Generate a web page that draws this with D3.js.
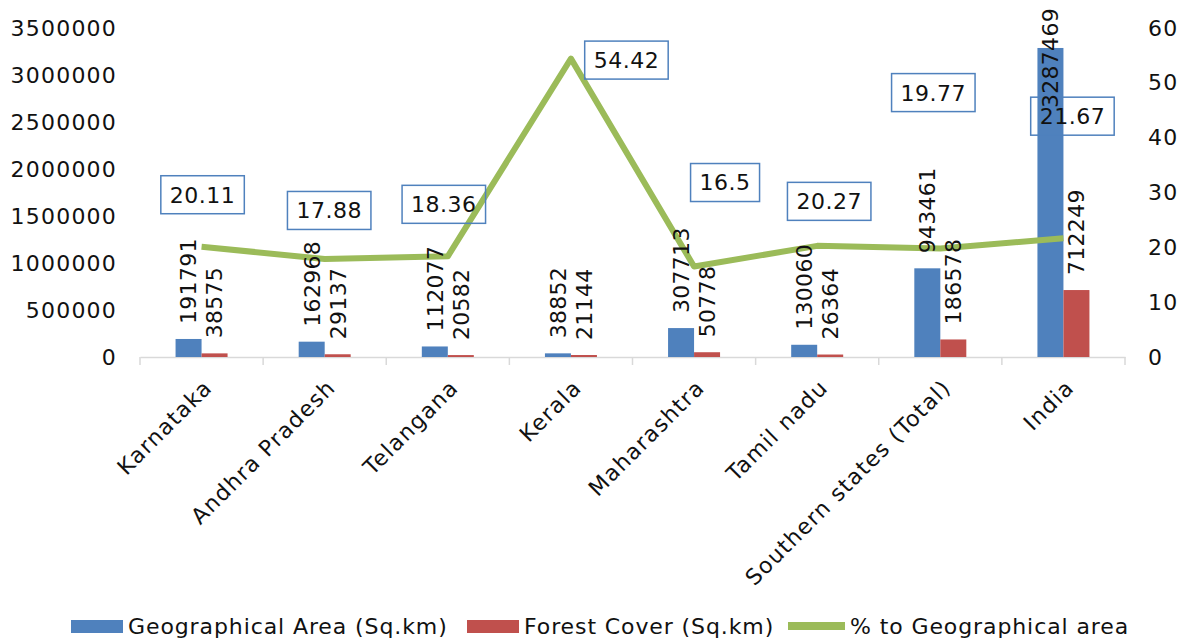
<!DOCTYPE html>
<html><head><meta charset="utf-8">
<script src="https://cdn.jsdelivr.net/npm/d3@7"></script>
<style>
body{margin:0;background:#fff}
svg{display:block;font-family:'DejaVu Sans',sans-serif}
</style>
</head><body>
<svg id="c" width="1184" height="640"></svg>
<script>
const categories = ["Karnataka","Andhra Pradesh","Telangana","Kerala","Maharashtra","Tamil nadu","Southern states (Total)","India"];
const geoArea = [191791,162968,112077,38852,307713,130060,943461,3287469];
const forestCover = [38575,29137,20582,21144,50778,26364,186578,712249];
const pctGeo = [20.11,17.88,18.36,54.42,16.5,20.27,19.77,21.67];
const leftTicks = [0,500000,1000000,1500000,2000000,2500000,3000000,3500000];
const rightTicks = [0,10,20,30,40,50,60];
const seriesNames = ["Geographical Area (Sq.km)","Forest Cover (Sq.km)","% to Geographical area"];
// layout only: manual placement of the % label boxes relative to their points (px)
const pctLabelOffsets = [[1,-52],[4.5,-48.5],[-4,-52],[55.5,1.5],[31,-84],[12,-44.5],[-7,-156],[9,-122]];

const colors = {geo:"#4F81BD", forest:"#C0504D", pct:"#9BBB59"};
const FS = 22;
const svg = d3.select("#c");

const x = d3.scaleBand().domain(categories).range([140,1125]).padding(0);
const y = d3.scaleLinear().domain([0,3500000]).range([357,28]);
const y2 = d3.scaleLinear().domain([0,60]).range([357,28]);
const xs = d3.scaleBand().domain(["geo","forest"]).range([0,52]);
const off = (x.bandwidth()-52)/2;

// axes
const gl = svg.append("g").attr("transform","translate(140,0)")
  .call(d3.axisLeft(y).tickValues(leftTicks).tickSize(0).tickPadding(23).tickFormat(d3.format("d")));
gl.select(".domain").remove();
const gr = svg.append("g").attr("transform","translate(1125,0)")
  .call(d3.axisRight(y2).tickValues(rightTicks).tickSize(0).tickPadding(23));
gr.select(".domain").remove();
svg.selectAll(".tick text").attr("font-size",FS).attr("font-family","'DejaVu Sans',sans-serif").attr("fill","#111").attr("letter-spacing","1.2px");

// bottom axis line and boundary ticks
const gb = svg.append("g").attr("transform","translate(0,357)")
  .call(d3.axisBottom(x).tickSize(0).tickFormat(""));
gb.select(".domain").attr("stroke","#D9D9D9").attr("stroke-width",1.5);
const bounds = categories.map(c=>x(c)).concat([x.range()[1]]);
svg.append("g").selectAll("line").data(bounds).join("line")
  .attr("x1",d=>d).attr("x2",d=>d).attr("y1",357).attr("y2",365)
  .attr("stroke","#D9D9D9").attr("stroke-width",1.5);

// bars
const gBars = svg.append("g");
categories.forEach((c,i)=>{
  [["geo",geoArea[i]],["forest",forestCover[i]]].forEach(([k,v])=>{
    gBars.append("rect")
      .attr("x",x(c)+off+xs(k)).attr("width",xs.bandwidth())
      .attr("y",y(v)).attr("height",y(0)-y(v)).attr("fill",colors[k]);
  });
});

// line
svg.append("path").datum(pctGeo)
  .attr("d",d3.line().x((d,i)=>x(categories[i])+x.bandwidth()/2).y(d=>y2(d)))
  .attr("fill","none").attr("stroke",colors.pct).attr("stroke-width",6)
  .attr("stroke-linejoin","round");

// category labels
svg.append("g").selectAll("text").data(categories).join("text")
  .attr("transform",d=>`translate(${x(d)+x.bandwidth()/2+12},389) rotate(-45)`)
  .attr("text-anchor","end").attr("font-size",FS).attr("fill","#111").attr("letter-spacing","1.3px")
  .text(d=>d);

// % label boxes
const gp = svg.append("g");
pctGeo.forEach((v,i)=>{
  const cx = x(categories[i])+x.bandwidth()/2 + pctLabelOffsets[i][0];
  const cy = y2(v) + pctLabelOffsets[i][1];
  const t = gp.append("text").attr("x",cx).attr("y",cy).attr("dy","0.36em")
    .attr("text-anchor","middle").attr("font-size",FS).attr("fill","#111").attr("letter-spacing","0.5px")
    .text(String(v));
  const w = t.node().getComputedTextLength()+18;
  gp.insert("rect","text").attr("x",cx-w/2).attr("y",cy-19).attr("width",w).attr("height",38)
    .attr("fill","none").attr("stroke",colors.geo).attr("stroke-width",1.5);
});

// bar value labels
const gv = svg.append("g");
categories.forEach((c,i)=>{
  [["geo",geoArea[i]],["forest",forestCover[i]]].forEach(([k,v])=>{
    const bx = x(c)+off+xs(k)+xs.bandwidth()/2;
    const t = gv.append("text").attr("font-size",FS).attr("fill","#111").attr("letter-spacing","0.3px")
      .attr("text-anchor","start").text(String(v));
    const L = t.node().getComputedTextLength();
    let sy = y(v)-15;
    if (sy - L < 8) sy = 8 + L;
    t.attr("transform",`translate(${bx},${sy}) rotate(-90)`).attr("dy","0.36em");
  });
});

// legend
const lg = svg.append("g");
const items = [
  {name:seriesNames[0], type:"rect", color:colors.geo, x:71},
  {name:seriesNames[1], type:"rect", color:colors.forest, x:467},
  {name:seriesNames[2], type:"line", color:colors.pct, x:788}
];
items.forEach(it=>{
  if(it.type==="rect") lg.append("rect").attr("x",it.x).attr("y",620).attr("width",52).attr("height",13).attr("fill",it.color);
  else lg.append("rect").attr("x",it.x).attr("y",622).attr("width",57).attr("height",8).attr("fill",it.color);
  lg.append("text").attr("x",it.x+(it.type==="rect"?57:62)).attr("y",626).attr("dy","0.36em")
    .attr("font-size",FS).attr("fill","#111").attr("letter-spacing","0.9px").text(it.name);
});
</script>
</body></html>
